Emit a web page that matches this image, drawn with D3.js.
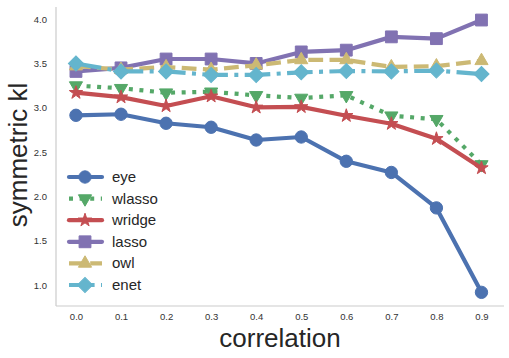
<!DOCTYPE html>
<html><head><meta charset="utf-8">
<script src="https://cdn.jsdelivr.net/npm/d3@7"></script>
<style>body{margin:0;background:#fff}svg{display:block}</style>
</head><body>
<script>
const correlation = [0.0,0.1,0.2,0.3,0.4,0.5,0.6,0.7,0.8,0.9];
const eye    = [2.915,2.927,2.825,2.78,2.636,2.67,2.396,2.27,1.87,0.917];
const wlasso = [3.25,3.22,3.17,3.18,3.14,3.11,3.14,2.91,2.87,2.36];
const wridge = [3.17,3.12,3.02,3.13,3.005,3.01,2.91,2.82,2.65,2.32];
const lasso  = [3.41,3.45,3.55,3.55,3.50,3.63,3.65,3.80,3.78,3.99];
const owl    = [3.47,3.43,3.46,3.43,3.48,3.54,3.54,3.46,3.47,3.53];
const enet   = [3.50,3.41,3.41,3.37,3.37,3.40,3.415,3.41,3.42,3.38];
const seriesNames = ["eye","wlasso","wridge","lasso","owl","enet"];
const xTicks = [0.0,0.1,0.2,0.3,0.4,0.5,0.6,0.7,0.8,0.9];
const yTicks = [1.0,1.5,2.0,2.5,3.0,3.5,4.0];

const styles = {
  eye:   {color:"#4C72B0", dash:null, sym:d3.symbolCircle, size:120, rot:0},
  wlasso:{color:"#55A868", dash:"4,6.6", sym:d3.symbolTriangle, size:75, rot:180},
  wridge:{color:"#C44E52", dash:null, sym:d3.symbolStar, size:55, rot:0},
  lasso: {color:"#8172B2", dash:null, sym:d3.symbolSquare, size:140, rot:0},
  owl:   {color:"#CCB974", dash:"14.8,6.4", sym:d3.symbolTriangle, size:75, rot:0},
  enet:  {color:"#64B5CD", dash:"25.6,6.4,4,6.4", sym:d3.symbolSquare, size:115, rot:45}
};
const data = {eye, wlasso, wridge, lasso, owl, enet};

const W=509,H=358;
const svg=d3.select("body").append("svg").attr("width",W).attr("height",H);
const x=d3.scaleLinear().domain([-0.0443,0.95]).range([56,504]);
const y=d3.scaleLinear().domain([0.763,4.137]).range([306,7]);

svg.append("line").attr("x1",56).attr("x2",56).attr("y1",y.range()[1]).attr("y2",y.range()[0]).attr("stroke","#ccc").attr("stroke-width",1.2);
svg.append("line").attr("x1",x.range()[0]).attr("x2",x.range()[1]).attr("y1",306).attr("y2",306).attr("stroke","#ccc").attr("stroke-width",1.2);

const xAxis=svg.append("g").attr("transform","translate(0,306)")
  .call(d3.axisBottom(x).tickValues(xTicks).tickFormat(d3.format(".1f")).tickSize(0).tickPadding(7));
const yAxis=svg.append("g").attr("transform","translate(56,0)")
  .call(d3.axisLeft(y).tickValues(yTicks).tickFormat(d3.format(".1f")).tickSize(0).tickPadding(9));
[xAxis,yAxis].forEach(g=>{g.select(".domain").remove();
  g.selectAll("text").attr("font-family","Liberation Sans, Arial, sans-serif").attr("font-size",9.5).attr("fill","#333");});

svg.append("text").attr("x",280).attr("y",347).attr("text-anchor","middle")
  .attr("font-family","Liberation Sans, Arial, sans-serif").attr("font-size",26).attr("fill","#262626").text("correlation");
svg.append("text").attr("transform","translate(27,155) rotate(-90)").attr("text-anchor","middle")
  .attr("font-family","Liberation Sans, Arial, sans-serif").attr("font-size",26).attr("fill","#262626").text("symmetric kl");

const line=d3.line().x((d,i)=>x(correlation[i])).y(d=>y(d));
seriesNames.forEach(name=>{
  const s=styles[name], vals=data[name];
  const g=svg.append("g");
  g.append("path").attr("d",line(vals)).attr("fill","none").attr("stroke",s.color)
   .attr("stroke-width",4.2).attr("stroke-dasharray",s.dash).attr("stroke-linejoin","round")
   .attr("stroke-linecap",s.dash?"butt":"round");
  g.selectAll("path.m").data(vals).join("path").attr("class","m")
   .attr("d",d3.symbol().type(s.sym).size(s.size))
   .attr("transform",(d,i)=>`translate(${x(correlation[i])},${y(d)}) rotate(${s.rot})`)
   .attr("fill",s.color).attr("stroke",s.color).attr("stroke-width",1);
});

const leg=svg.append("g");
seriesNames.forEach((name,i)=>{
  const s=styles[name], cy=177+i*21.6;
  leg.append("line").attr("x1",69).attr("x2",102).attr("y1",cy).attr("y2",cy).attr("stroke",s.color)
    .attr("stroke-width",4.2).attr("stroke-dasharray",s.dash).attr("stroke-linecap",s.dash?"butt":"round");
  leg.append("path").attr("d",d3.symbol().type(s.sym).size(s.size)).attr("transform",`translate(85,${cy}) rotate(${s.rot})`)
    .attr("fill",s.color).attr("stroke",s.color).attr("stroke-width",1);
  leg.append("text").attr("x",112).attr("y",cy+5).attr("font-family","Liberation Sans, Arial, sans-serif")
    .attr("font-size",15).attr("fill","#262626").text(name);
});
</script>
</body></html>
